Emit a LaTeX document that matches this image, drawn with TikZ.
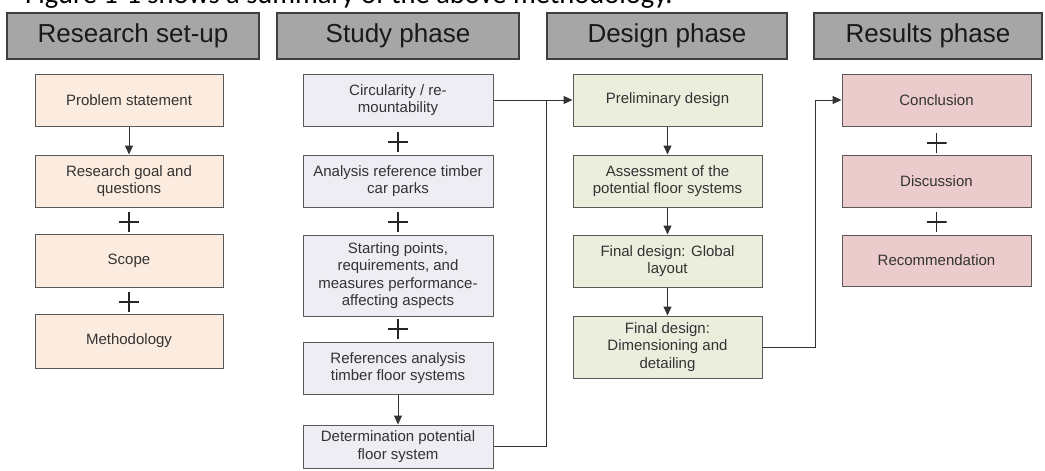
\documentclass[tikz,border=0pt]{standalone}
\usepackage{fontspec}
\setmainfont{Liberation Sans}
\newfontfamily\capfont{Carlito}
\usetikzlibrary{arrows.meta}
\definecolor{hdrfill}{HTML}{A6A6A6}
\definecolor{hdrline}{HTML}{3F3F3F}
\definecolor{boxline}{HTML}{595959}
\definecolor{txtcol}{HTML}{333333}
\definecolor{setupfill}{HTML}{FCEBDF}
\definecolor{studyfill}{HTML}{EDEDF3}
\definecolor{designfill}{HTML}{EBEEDD}
\definecolor{resultfill}{HTML}{EBCBCB}
\tikzset{
  hdr/.style={draw=hdrline, fill=hdrfill, line width=1.2pt, minimum height=46pt, inner sep=0pt,
    font=\fontsize{26}{30}\selectfont, text=black!90},
  stepbox/.style={draw=boxline, line width=1pt, inner sep=2pt, align=center,
    font=\fontsize{15}{17.5}\selectfont, text=txtcol},
  setup/.style={stepbox, fill=setupfill, minimum width=188pt},
  study/.style={stepbox, fill=studyfill, minimum width=190pt},
  design/.style={stepbox, fill=designfill, minimum width=189pt},
  result/.style={stepbox, fill=resultfill, minimum width=189pt},
  plus/.style={minimum size=20pt, inner sep=0pt, path picture={
    \draw[line width=1.7pt, black!85]
      (path picture bounding box.north) -- (path picture bounding box.south)
      (path picture bounding box.west) -- (path picture bounding box.east);}},
  conn/.style={draw=black!80, line width=1pt},
  arr/.style={conn, -{Triangle[length=9pt,width=8pt]}},
}
\begin{document}
\begin{tikzpicture}[x=1pt,y=-1pt]
\useasboundingbox (0,0) rectangle (1045,471);
\clip (0,0) rectangle (1045,471);
\fill[white] (0,0) rectangle (1045,471);
% cut-off caption line
\node[anchor=base west, inner sep=0pt, font=\capfont\fontsize{28.5}{32}\selectfont] (cap) at (25,4)
  {Figure 1-1 shows a summary of the above methodology.};
% headers
\node[hdr, minimum width=252pt] (h1) at (133,36) {Research set-up};
\node[hdr, minimum width=242pt] (h2) at (398,36) {Study phase};
\node[hdr, minimum width=240pt] (h3) at (667,36) {Design phase};
\node[hdr, minimum width=228pt] (h4) at (928,36) {Results phase};
% research set-up
\node[setup, minimum height=52pt] (ps) at (129,100) {Problem statement};
\node[setup, minimum height=52pt] (rg) at (129,181) {Research goal and\\questions};
\node[setup, minimum height=53pt] (sc) at (129,260.5) {Scope};
\node[setup, minimum height=54pt] (me) at (129,341) {Methodology};
\node[plus] (p1) at (129,222) {};
\node[plus] (p2) at (129,302) {};
% study phase
\node[study, minimum height=52pt] (ci) at (398,100) {Circularity / re-\\mountability};
\node[study, minimum height=52pt] (an) at (398,181) {Analysis reference timber\\car parks};
\node[study, minimum height=81pt] (st) at (398,275.5) {Starting points,\\requirements, and\\measures performance-\\affecting aspects};
\node[study, minimum height=52pt] (re) at (398,368) {References analysis\\timber floor systems};
\node[study, minimum height=43pt] (de) at (398,446.5) {Determination potential\\floor system};
\node[plus] (p3) at (398,142) {};
\node[plus] (p4) at (398,222) {};
\node[plus] (p5) at (398,329) {};
% design phase
\node[design, minimum height=52pt] (pd) at (667.5,100) {Preliminary design};
\node[design, minimum height=52pt] (as) at (667.5,181) {Assessment of the\\potential floor systems};
\node[design, minimum height=52pt] (fg) at (667.5,261) {Final design: Global\\layout};
\node[design, minimum height=62pt] (fd) at (667.5,347) {Final design:\\Dimensioning and\\detailing};
% results phase
\node[result, minimum height=52pt] (co) at (936.5,100) {Conclusion};
\node[result, minimum height=52pt] (di) at (936.5,181) {Discussion};
\node[result, minimum height=51pt] (rc) at (936.5,260.5) {Recommendation};
\node[plus] (p6) at (936.5,143) {};
\node[plus] (p7) at (936.5,222) {};
% connectors
\draw[arr] (ps) -- (rg);
\draw[arr] (re) -- (de);
\draw[arr] (pd) -- (as);
\draw[arr] (as) -- (fg);
\draw[arr] (fg) -- (fd);
\coordinate (jn) at (546,100);
\draw[arr] (ci.east) -- (pd.west);
\draw[conn] (de.east) -| (jn);
\coordinate (jr) at (815,100);
\draw[arr] (fd.east) -| (jr) -- (co.west);
\end{tikzpicture}
\end{document}
